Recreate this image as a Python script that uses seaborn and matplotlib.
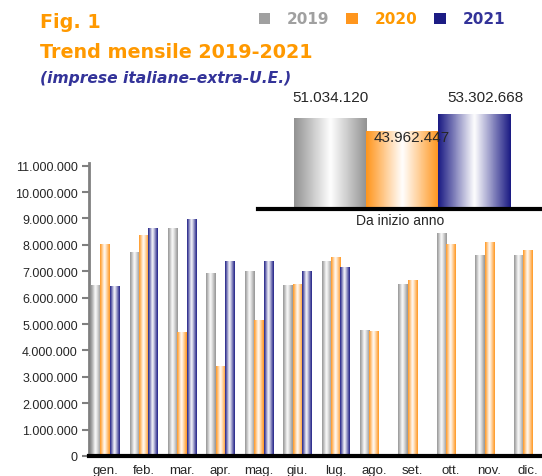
import numpy as np
import pandas as pd
import matplotlib
matplotlib.use('Agg')
import matplotlib.pyplot as plt
from matplotlib.colors import LinearSegmentedColormap
from matplotlib.patches import Patch
import seaborn as sns

# monthly values (imprese italiane - extra U.E.)
months = ['gen.', 'feb.', 'mar.', 'apr.', 'mag.', 'giu.', 'lug.', 'ago.', 'set.', 'ott.', 'nov.', 'dic.']
years = ['2019', '2020', '2021']
v2019 = [6490000, 7740000, 8650000, 6950000, 7020000, 6490000, 7400000, 4790000, 6530000, 8460000, 7630000, 7630000]
v2020 = [8050000, 8360000, 4680000, 3400000, 5170000, 6530000, 7540000, 4720000, 6680000, 8040000, 8120000, 7820000]
v2021 = [6440000, 8620000, 8970000, 7400000, 7400000, 7020000, 7150000, np.nan, np.nan, np.nan, np.nan, np.nan]
ytd_values = [51034120, 43962447, 53302668]
ytd_labels = ['51.034.120', '43.962.447', '53.302.668']

colors = {'2019': '#939393', '2020': '#ff961e', '2021': '#1c1c84'}
text_colors = {'2019': '#a0a0a0', '2020': '#ff9900', '2021': '#333399'}

df = pd.DataFrame({'mese': months * 3,
                   'anno': [y for y in years for _ in months],
                   'valore': v2019 + v2020 + v2021})
ytd = pd.DataFrame({'anno': years, 'valore': ytd_values})

sns.set_style('white')
plt.rcParams['font.family'] = ['Liberation Sans', 'DejaVu Sans']


def dots(v, pos=None):
    return f'{int(v):,}'.replace(',', '.')


def shade(ax, patch, color, mid=0.45):
    x, y = patch.get_x(), patch.get_y()
    w, h = patch.get_width(), patch.get_height()
    if not np.isfinite(h) or h == 0:
        return
    cmap = LinearSegmentedColormap.from_list('', [(0, color), (mid, 'white'), (1, color)])
    grad = np.linspace(0, 1, 64).reshape(1, -1)
    im = ax.imshow(grad, cmap=cmap, extent=[x, x + w, y, y + h], aspect='auto',
                   interpolation='bicubic', zorder=patch.get_zorder())
    im.set_clip_path(patch)
    patch.set_facecolor('none')
    patch.set_edgecolor('none')


fig = plt.figure(figsize=(5.42, 4.77), dpi=100)

# main monthly chart
ax = fig.add_axes([89 / 542, 1 - 457 / 477, 453 / 542, (457 - 164) / 477])
sns.barplot(data=df, x='mese', y='valore', hue='anno', hue_order=years,
            palette=colors, width=0.73, gap=0, ax=ax, legend=False)
for cont, yr in zip(ax.containers, years):
    for p in cont:
        shade(ax, p, colors[yr])
ax.set_xlim(-0.42, 11.37)
ax.set_ylim(0, 11100000)
ax.set_yticks(np.arange(0, 11000001, 1000000))
ax.yaxis.set_major_formatter(plt.FuncFormatter(dots))
ax.set_xlabel('')
ax.set_ylabel('')
sns.despine(ax=ax)
ax.spines['left'].set_color('#808080')
ax.spines['left'].set_linewidth(2)
ax.spines['bottom'].set_color('black')
ax.spines['bottom'].set_linewidth(3)
ax.tick_params(axis='y', direction='out', length=5, width=1.5, color='#808080',
               labelsize=9, pad=3, left=True)
ax.tick_params(axis='x', length=0, labelsize=9.5, pad=6)

# year-to-date inset
ax2 = fig.add_axes([258 / 542, 1 - 210 / 477, 284 / 542, 107 / 477])
ax2.patch.set_alpha(0)
sns.barplot(data=ytd, x='anno', y='valore', hue='anno', palette=colors,
            width=1.0, ax=ax2, legend=False)
for p, yr in zip(ax2.patches, years):
    shade(ax2, p, colors[yr], mid=0.5)
ax2.set_xlim(-1.0, 2.94)
ax2.set_ylim(0, 60000000)
sns.despine(ax=ax2, left=True)
ax2.spines['bottom'].set_color('black')
ax2.spines['bottom'].set_linewidth(3)
ax2.set_xticks([])
ax2.set_yticks([])
ax2.set_ylabel('')
ax2.set_xlabel('Da inizio anno', fontsize=10, labelpad=3)
offsets = [(0.0, 59000000), (0.13, None), (0.15, 59000000)]
for i, (val, lab) in enumerate(zip(ytd_values, ytd_labels)):
    dx, ypos = offsets[i]
    if ypos is None:
        ypos = val - 7300000
    ax2.text(i + dx, ypos, lab, ha='center', va='bottom', fontsize=11, clip_on=False)

# titles
fig.text(40 / 542, 1 - 22 / 477, 'Fig. 1', color='#ff9900', fontsize=13.8,
         fontweight='bold', family='DejaVu Sans', va='center')
fig.text(40 / 542, 1 - 52 / 477, 'Trend mensile 2019-2021', color='#ff9900', fontsize=13.8,
         fontweight='bold', family='DejaVu Sans', va='center')
fig.text(40 / 542, 1 - 79 / 477, '(imprese italiane\u2013extra-U.E.)', color='#333399',
         fontsize=11.2, fontweight='bold', fontstyle='italic', family='DejaVu Sans', va='center')

# legend
handles = [Patch(facecolor=colors[y] if y != '2019' else '#a0a0a0', edgecolor='none') for y in years]
leg = fig.legend(handles, years, loc='center left', bbox_to_anchor=(245 / 542, 1 - 20 / 477),
                 ncol=3, frameon=False, handlelength=0.75, handleheight=0.75,
                 handletextpad=1.1, columnspacing=1.1,
                 prop={'family': 'DejaVu Sans', 'weight': 'bold', 'size': 11})
for t, y in zip(leg.get_texts(), years):
    t.set_color(text_colors[y])

fig.savefig('out.png', dpi=100)
